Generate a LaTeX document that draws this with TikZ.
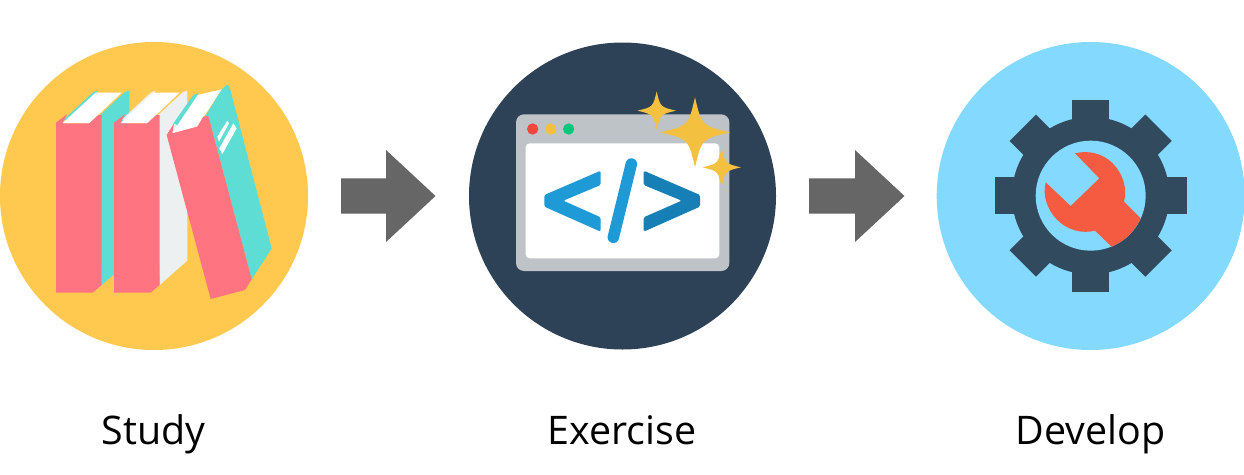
\documentclass[tikz,border=0pt]{standalone}
\usepackage{fontspec}
\setmainfont{Open Sans}
\definecolor{cyel}{HTML}{FFC84F}
\definecolor{cred}{HTML}{FF7480}
\definecolor{cteal}{HTML}{5DDDD3}
\definecolor{cpale}{HTML}{EDF0F1}
\definecolor{cnavy}{HTML}{2D4257}
\definecolor{cgray}{HTML}{BDC3C7}
\definecolor{csky}{HTML}{84D9FF}
\definecolor{cgear}{HTML}{324A5E}
\definecolor{cwrench}{HTML}{F45B40}
\definecolor{carrow}{HTML}{666666}
\definecolor{cblue}{HTML}{1E9BD7}
\definecolor{cblued}{HTML}{1680B6}
\definecolor{cstar}{HTML}{F4C03F}
\definecolor{cdotred}{HTML}{F0483E}
\definecolor{cdotgreen}{HTML}{00C878}
\tikzset{
  x=1pt,y=-1pt,
  disc/.style={circle,inner sep=0pt,minimum size=#1,draw=none},
  label text/.style={anchor=base,inner sep=0pt,font=\fontsize{39.4}{45}\selectfont,text=black},
  blockarrow/.style={fill=carrow,draw=none},
}
\newcommand{\sparkle}[3]{%
  \fill[cstar] (#1,#2-#3) .. controls (#1+.19*#3,#2-.19*#3) .. (#1+#3,#2)
    .. controls (#1+.19*#3,#2+.19*#3) .. (#1,#2+#3)
    .. controls (#1-.19*#3,#2+.19*#3) .. (#1-#3,#2)
    .. controls (#1-.19*#3,#2-.19*#3) .. cycle;}
\newcommand{\bookshape}[2]{%
  \begin{scope}[xshift=#1pt]
  \fill[#2] (100,150) -- (188,68) -- (202,62) -- (197,70) -- (112,150) -- cycle;
  \fill[#2] (205,140) -- (285,66) -- (298,62) -- (298,572) -- (215,645) -- cycle;
  \fill[white] (97,160) -- (178,160) -- (275,68) -- (197,68) -- cycle;
  \fill[cred] (78,158) -- (112,132) -- (97,160) -- (178,160) -- (205,135) -- (215,135) -- (215,645) -- (188,668) -- (78,668) -- cycle;
  \end{scope}}
\begin{document}
\begin{tikzpicture}
\useasboundingbox (0,0) rectangle (1244,474);
\fill[white] (0,0) rectangle (1244,474);
\node[disc=308pt,fill=cyel] (studydisc) at (154,196) {};
\node[disc=307pt,fill=cnavy] (exercisedisc) at (622.5,196) {};
\node[disc=308pt,fill=csky] (developdisc) at (1090.7,196) {};
% books
\begin{scope}[shift={(30,70)},scale=1/3]
  \bookshape{0}{cteal}
  \bookshape{174}{cpale}
  \fill[cteal] (430,160) -- (490,75) -- (506,70) -- (500,80) -- (442,165) -- cycle;
  \fill[cteal] (525,140) -- (575,58) -- (590,45) -- (598,48) -- (725,535) -- (665,628) -- (535,138) -- cycle;
  \fill[white] (427,190) -- (502,170) -- (575,58) -- (503,75) -- cycle;
  \fill[cred] (410,195) -- (432,160) -- (427,190) -- (502,170) -- (520,140) -- (535,138) -- (665,628) -- (645,660) -- (542,687) -- cycle;
  \fill[white] (562,200) -- (592,152) -- (597,160) -- (567,215) -- cycle;
  \fill[white] (568,235) -- (610,160) -- (620,175) -- (577,252) -- cycle;
\end{scope}
% browser
\begin{scope}[shift={(500,80)},scale=1/3]
  \fill[cgray,rounded corners=8pt] (48,103) rectangle (688,573);
  \fill[white,rounded corners=4pt] (77,190) rectangle (658,535);
  \fill[cdotred] (98,147) circle (17);
  \fill[cstar] (152,147) circle (17);
  \fill[cdotgreen] (206,147) circle (17);
  \fill[cblue,rounded corners=1.5pt] (302,272) -- (133,345) -- (133,380) -- (302,455) -- (302,412) -- (190,362) -- (302,315) -- cycle;
  \fill[cblued,rounded corners=1.5pt] (431,272) -- (600,345) -- (600,380) -- (431,455) -- (431,412) -- (545,362) -- (431,315) -- cycle;
  \draw[cblue,line width=11.5pt,line cap=round] (394,252) -- (340,472);
  \sparkle{470}{92}{58}
  \sparkle{585}{157}{105}
  \sparkle{665}{262}{58}
\end{scope}
% gear
\begin{scope}[shift={(980,85)},scale=1/3]
  \fill[cgear] (332,332) circle (236);
  \foreach \a in {0,45,...,315}{
    \fill[cgear,rotate around={\a:(332,332)}] (276,44) rectangle (388,140);
  }
  \fill[csky] (332,332) circle (165);
  \fill[cwrench] (285,205)
     .. controls (325,195) and (368,205) .. (398,235)
     .. controls (428,265) and (443,310) .. (432,350)
     -- (482,400)
     .. controls (463,440) and (435,468) .. (395,485)
     -- (345,437)
     .. controls (305,447) and (262,435) .. (232,405)
     .. controls (202,375) and (187,332) .. (197,292)
     -- (272,363) -- (358,280) -- cycle;
\end{scope}
% arrows
\fill[blockarrow] (341,178.3) -- (386,178.3) -- (386,150) -- (435.5,196) -- (386,242) -- (386,213.5) -- (341,213.5) -- cycle;
\fill[blockarrow] (809,178.3) -- (855,178.3) -- (855,150) -- (904.5,196) -- (855,242) -- (855,213.5) -- (809,213.5) -- cycle;
\node[label text] (study) at (153.5,444) {Study};
\node[label text] (exercise) at (622,444) {Exercise};
\node[label text] (develop) at (1090.5,444) {Develop};
\end{tikzpicture}
\end{document}
